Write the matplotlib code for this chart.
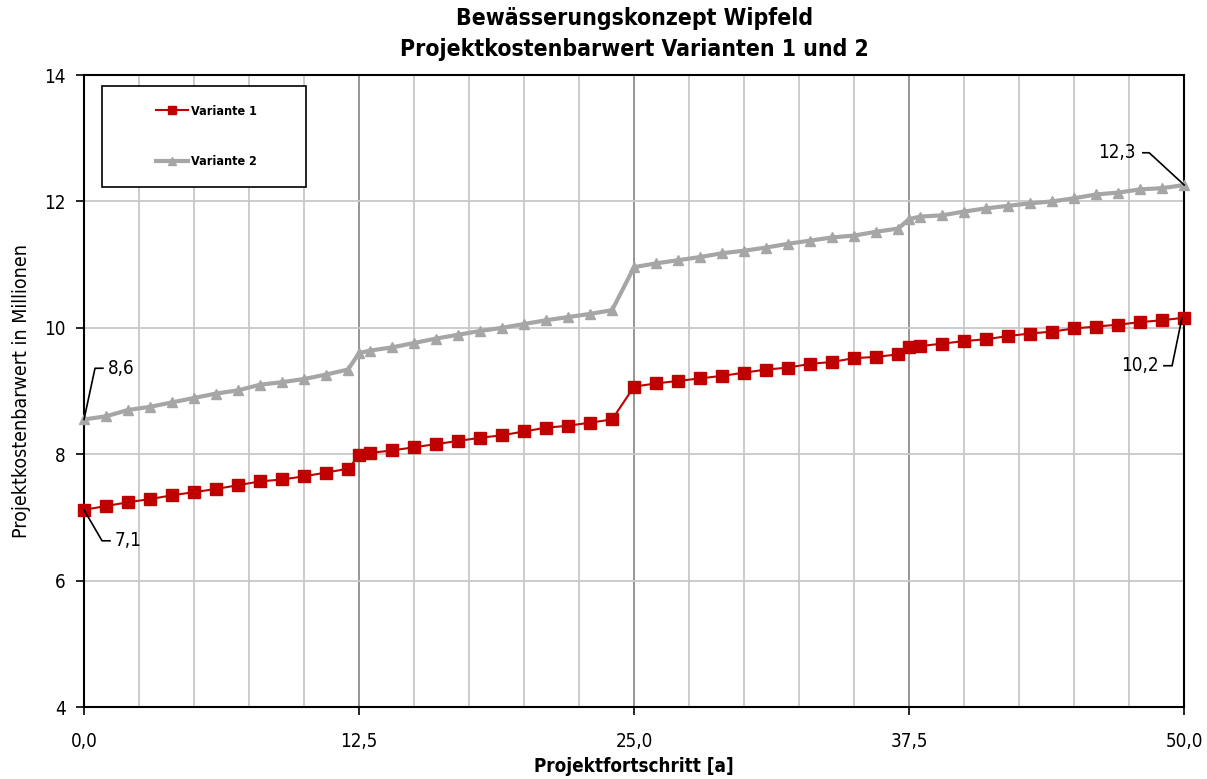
import matplotlib.pyplot as plt
from matplotlib.patches import Rectangle

plt.rcParams['font.family'] = ['DejaVu Sans']
plt.rcParams['font.stretch'] = 'condensed'

# project step (years), with half steps where the costs jump
jahre = [0, 1, 2, 3, 4, 5, 6, 7, 8, 9, 10, 11, 12, 12.5, 13, 14, 15, 16, 17, 18,
         19, 20, 21, 22, 23, 24, 25, 26, 27, 28, 29, 30, 31, 32, 33, 34, 35, 36,
         37, 37.5, 38, 39, 40, 41, 42, 43, 44, 45, 46, 47, 48, 49, 50]

variante1 = [7.12, 7.18, 7.24, 7.29, 7.35, 7.40, 7.45, 7.51, 7.57, 7.60, 7.65,
             7.71, 7.77, 7.98, 8.02, 8.06, 8.11, 8.16, 8.21, 8.26, 8.30, 8.36,
             8.42, 8.45, 8.50, 8.55, 9.07, 9.12, 9.16, 9.20, 9.24, 9.29, 9.34,
             9.37, 9.43, 9.46, 9.52, 9.54, 9.58, 9.69, 9.71, 9.75, 9.79, 9.82,
             9.87, 9.91, 9.94, 9.99, 10.02, 10.05, 10.09, 10.12, 10.16]

variante2 = [8.55, 8.60, 8.70, 8.75, 8.82, 8.89, 8.96, 9.01, 9.10, 9.14, 9.19,
             9.26, 9.34, 9.60, 9.64, 9.69, 9.76, 9.83, 9.89, 9.95, 10.00, 10.06,
             10.12, 10.17, 10.22, 10.28, 10.96, 11.02, 11.07, 11.12, 11.18, 11.22,
             11.27, 11.33, 11.38, 11.43, 11.46, 11.52, 11.57, 11.72, 11.76, 11.78,
             11.84, 11.89, 11.93, 11.97, 12.00, 12.05, 12.11, 12.14, 12.19, 12.21,
             12.26]

x_major = [0, 12.5, 25, 37.5, 50]
x_labels = ['0,0', '12,5', '25,0', '37,5', '50,0']
y_ticks = [4, 6, 8, 10, 12, 14]

fig = plt.figure(figsize=(12.07, 7.79), dpi=100)
ax = fig.add_axes([0.0696, 0.0924, 0.9115, 0.8113])

ax.set_xlim(0, 50)
ax.set_ylim(4, 14)

# grid
for xv in [i * 2.5 for i in range(1, 20)]:
    if xv % 12.5 == 0:
        ax.axvline(xv, color='#8c8c8c', lw=1.3, zorder=1)
    else:
        ax.axvline(xv, color='#c8c8c8', lw=1.3, zorder=1)
for yv in y_ticks[1:-1]:
    ax.axhline(yv, color='#c8c8c8', lw=1.3, zorder=1)

ax.plot(jahre, variante2, color='#a6a6a6', lw=3, marker='^', markersize=6.5,
        label='Variante 2', zorder=3, clip_on=False)
ax.plot(jahre, variante1, color='#c00000', lw=1.5, marker='s', markersize=9,
        label='Variante 1', zorder=4, clip_on=False)

ax.set_xticks(x_major)
ax.set_xticklabels(x_labels)
ax.set_yticks(y_ticks)
ax.tick_params(axis='both', direction='out', length=6, width=1.2, labelsize=13.5)
ax.tick_params(axis='x', pad=12)
ax.tick_params(axis='y', pad=7)

for s in ax.spines.values():
    s.set_linewidth(1.5)
    s.set_color('black')

ax.set_xlabel('Projektfortschritt [a]', fontsize=13.5, fontweight='bold', labelpad=4)
ax.set_ylabel('Projektkostenbarwert in Millionen', fontsize=14, labelpad=10)
ax.set_title('Bewässerungskonzept Wipfeld\nProjektkostenbarwert Varianten 1 und 2',
             fontsize=16.5, fontweight='bold', pad=14, linespacing=1.4)

# legend with a large frame
ax.add_patch(Rectangle((0.0164, 0.8228), 0.1854, 0.1598, transform=ax.transAxes,
                       facecolor='white', edgecolor='black', lw=1.2, zorder=5))
handles, labels = ax.get_legend_handles_labels()
leg = ax.legend(handles[::-1], labels[::-1], loc='center left',
                bbox_to_anchor=(0.055, 0.9027), frameon=False,
                labelspacing=3.0, handlelength=2.6, handletextpad=0.2,
                prop={'weight': 'bold', 'size': 9, 'stretch': 'condensed'})
leg.set_zorder(6)
for h in leg.legend_handles:
    h.set_markersize(6)

# value annotations with leader lines
kw = dict(color='black', lw=1.2, zorder=6, clip_on=False)
ax.plot([0, 0.5, 0.86], [variante2[0], 9.36, 9.36], **kw)
ax.text(1.1, 9.36, '8,6', fontsize=13.5, va='center', ha='left', zorder=6)
ax.plot([0, 0.82, 1.18], [variante1[0], 6.63, 6.63], **kw)
ax.text(1.4, 6.63, '7,1', fontsize=13.5, va='center', ha='left', zorder=6)
ax.plot([50, 48.41, 48.12], [variante2[-1], 12.77, 12.77], **kw)
ax.text(47.8, 12.77, '12,3', fontsize=13.5, va='center', ha='right', zorder=6)
ax.plot([49.9, 49.45, 49.08], [variante1[-1], 9.40, 9.40], **kw)
ax.text(48.82, 9.40, '10,2', fontsize=13.5, va='center', ha='right', zorder=6)

fig.savefig('out.png', dpi=100)
